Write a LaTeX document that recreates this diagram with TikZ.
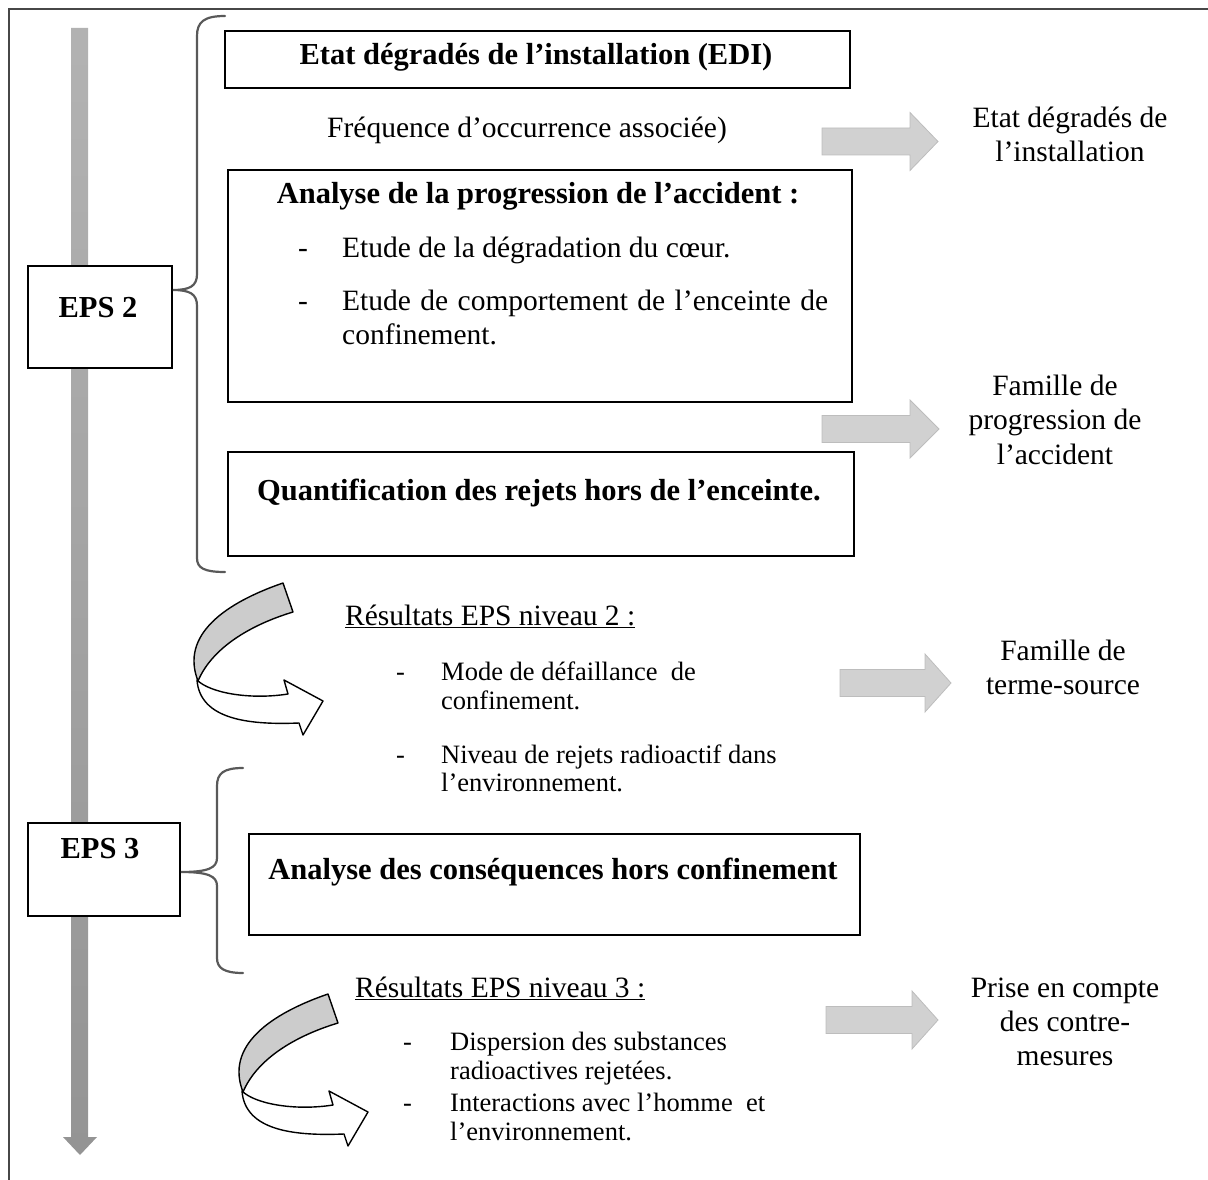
\documentclass[tikz,border=0pt]{standalone}
\usepackage{fontspec}
\setmainfont{Liberation Serif}
\tikzset{
  % curved ribbon arrow: grey back face, white front face with head
  pics/curl/.style={code={
    \filldraw[fill=white, draw=black, line width=1.4pt, line join=round]
      (197,680) .. controls (210,693) and (250,700) .. (288,694)
      -- (284,680) -- (323,701) -- (303,735) -- (299,723)
      .. controls (250,725) and (200,720) .. (197,680) -- cycle;
    \filldraw[fill=black!20, draw=black, line width=1.4pt, line join=round]
      (283,583) -- (293,612) .. controls (250,625) and (212,648) .. (198,681)
      .. controls (180,635) and (225,603) .. (283,583) -- cycle;
  }},
  % flat grey block arrow pointing right: shaft length / tip position
  pics/rarrow/.style args={#1/#2}{code={
    \path[fill=black!18, draw=black!26, line width=0.8pt, line join=miter]
      (0,-13.5) -- (#1,-13.5) -- (#1,-29) -- (#2,0) -- (#1,29) -- (#1,13.5)
      -- (0,13.5) -- cycle;
  }},
}
\begin{document}
\hyphenpenalty=10000
\begin{tikzpicture}[x=1pt, y=-1pt,
  box/.style={draw=black, line width=1.6pt, fill=white, inner sep=0pt},
  reg/.style={font=\fontsize{29.5pt}{34pt}\selectfont, inner sep=0pt, anchor=base},
  bld/.style={font=\fontsize{30.5pt}{34pt}\selectfont\bfseries, inner sep=0pt, anchor=base},
  sml/.style={font=\fontsize{26.5pt}{30pt}\selectfont, inner sep=0pt, anchor=base west},
  brace/.style={draw=black!65, line width=2.2pt, line cap=round},
]
\useasboundingbox (0,0) rectangle (1208,1180);

% page frame
\draw[black!72, line width=2.6pt] (9,1185) -- (9,9) -- (1213,9);

% time axis
\shade[top color=black!30, bottom color=black!42]
  (71,28) -- (88,28) -- (88,1137) -- (97,1137) -- (80,1155) -- (63,1137)
  -- (71,1137) -- cycle;

% level boxes
\node[box, minimum width=144pt, minimum height=102pt] (eps2) at (100,317) {};
\node[box, minimum width=152pt, minimum height=93pt] (eps3) at (104,869.5) {};
\node[bld] (eps2t) at (98,317) {EPS 2};
\node[bld] (eps3t) at (100,858) {EPS 3};

% study boxes
\node[box, minimum width=625pt, minimum height=57pt] (edi) at (537.5,59.5) {};
\node[box, minimum width=624pt, minimum height=232pt] (prog) at (540,286) {};
\node[box, minimum width=626pt, minimum height=104pt] (rej) at (541,504) {};
\node[box, minimum width=611pt, minimum height=101pt] (csq) at (554.5,884.5) {};

% braces
\coordinate (tip2) at (eps2.east |- 0,290);
\coordinate (tip3) at (eps3.east |- 0,872);
\draw[brace] (225,16) .. controls (204,16) and (197,22) .. (197,36)
  -- (197,274) .. controls (197,286) and (190,290) .. (tip2)
  .. controls (190,290) and (197,294) .. (197,306)
  -- (197,558) .. controls (197,568) and (204,572) .. (225,572);
\draw[brace] (243,768) .. controls (224,768) and (217,773) .. (217,786)
  -- (217,858) .. controls (217,868) and (208,872) .. (tip3)
  .. controls (208,872) and (217,876) .. (217,886)
  -- (217,958) .. controls (217,968) and (224,973) .. (243,973);

% texts of level 2
\node[bld] (edit) at (536,65) {Etat dégradés de l’installation (EDI)};
\node[reg] (freq) at (527,138) {Fréquence d’occurrence associée)};
\node[bld] (progt) at (538,204) {Analyse de la progression de l’accident :};
\node[reg, anchor=base west] (d1) at (298,257) {-};
\node[reg, anchor=base west] (p1) at (342,257) {Etude de la dégradation du cœur.};
\node[reg, anchor=base west] (d2) at (298,310) {-};
\node[reg, anchor=base west] (p2) at (342,310) {\makebox[486pt][s]{Etude de comportement de l’enceinte de}};
\node[reg, anchor=base west] (p2b) at (342,344) {confinement.};
\node[bld] (rejt) at (539,500) {Quantification des rejets hors de l’enceinte.};

% results of level 2
\pic (c1) at (0,0) {curl};
\node[reg, anchor=base west] (res2) at (345,625) {\underline{Résultats EPS niveau 2 :}};
\node[sml] (r2d1) at (396,680) {-};
\node[sml] (r2a) at (441,680) {Mode de défaillance\ \ de};
\node[sml] (r2b) at (441,709) {confinement.};
\node[sml] (r2d2) at (396,763) {-};
\node[sml] (r2c) at (441,763) {Niveau de rejets radioactif dans};
\node[sml] (r2e) at (441,791) {l’environnement.};

% level 3
\node[bld] (csqt) at (553,879) {Analyse des conséquences hors confinement};
\pic (c2) at (45,411) {curl};
\node[reg, anchor=base west] (res3) at (355,997) {\underline{Résultats EPS niveau 3 :}};
\node[sml] (r3d1) at (403,1050) {-};
\node[sml] (r3a) at (450,1050) {Dispersion des substances};
\node[sml] (r3b) at (450,1079) {radioactives rejetées.};
\node[sml] (r3d2) at (403,1111) {-};
\node[sml] (r3c) at (450,1111) {Interactions avec l’homme\ \ et};
\node[sml] (r3e) at (450,1140) {l’environnement.};

% outcome arrows
\pic (a1) at (822,141.5) {rarrow=88/116};
\pic (a2) at (822,429) {rarrow=88/117};
\pic (a3) at (840,683) {rarrow=85/111};
\pic (a4) at (826,1020) {rarrow=86/112};

% outcomes
\node[reg] (o1a) at (1070,128) {Etat dégradés de};
\node[reg] (o1b) at (1070,161) {l’installation};
\node[reg] (o2a) at (1055,395) {Famille de};
\node[reg] (o2b) at (1055,429) {progression de};
\node[reg] (o2c) at (1055,464) {l’accident};
\node[reg] (o3a) at (1063,660) {Famille de};
\node[reg] (o3b) at (1063,694) {terme-source};
\node[reg] (o4a) at (1065,997) {Prise en compte};
\node[reg] (o4b) at (1065,1031) {des contre-};
\node[reg] (o4c) at (1065,1065) {mesures};
\end{tikzpicture}
\end{document}
